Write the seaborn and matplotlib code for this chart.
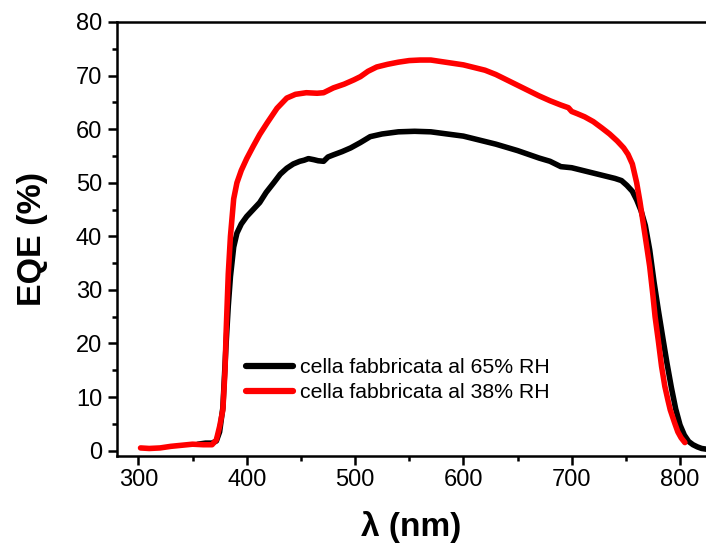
import matplotlib
matplotlib.use("Agg")
import matplotlib.pyplot as plt
from matplotlib.ticker import MultipleLocator
import numpy as np
import pandas as pd
import seaborn as sns

# EQE spectra of the two cells (wavelength in nm, EQE in %)
wl_65 = [355, 362, 368, 372, 375, 378, 381, 383, 385, 388, 391, 395, 400, 406,
         412, 418, 425, 431, 437, 443, 449, 453, 457, 462, 466, 471, 475, 480,
         488, 496, 505, 514, 525, 540, 555, 570, 585, 600, 610, 620, 630, 640,
         650, 660, 670, 680, 690, 700, 710, 720, 730, 740, 746, 751, 756, 760,
         764, 768, 772, 776, 780, 784, 788, 792, 796, 800, 804, 808, 812, 816,
         820, 825]
eqe_65 = [1.2, 1.4, 1.4, 1.8, 3.5, 8.0, 20.0, 27.0, 32.5, 38.0, 40.6, 42.3, 43.7, 45.0,
          46.3, 48.2, 50.0, 51.6, 52.7, 53.5, 54.0, 54.2, 54.5, 54.3, 54.1, 54.0, 54.8, 55.2,
          55.8, 56.5, 57.5, 58.6, 59.1, 59.5, 59.6, 59.5, 59.1, 58.7, 58.2, 57.7, 57.2, 56.6,
          56.0, 55.3, 54.6, 54.0, 53.0, 52.8, 52.3, 51.8, 51.3, 50.8, 50.4, 49.5, 48.4, 46.8,
          44.8, 42.0, 37.5, 31.5, 26.2, 21.2, 16.3, 11.8, 7.8, 4.8, 2.9, 1.7, 1.1, 0.7,
          0.4, 0.25]

wl_38 = [302, 310, 320, 330, 340, 350, 360, 368, 372, 375, 378, 380, 381, 383, 385,
         388, 391, 395, 400, 406, 412, 419, 428, 437, 445, 455, 465, 471, 480, 490,
         499, 505, 512, 520, 530, 540, 550, 560, 570, 580, 590, 600, 610, 620, 630,
         640, 650, 660, 670, 680, 690, 697, 700, 705, 712, 720, 728, 735, 742, 748,
         752, 756, 760, 763, 766, 769, 772, 775, 777, 780, 783, 786, 789, 791, 795,
         798, 801, 804.5]
eqe_38 = [0.5, 0.4, 0.5, 0.8, 1.0, 1.2, 1.1, 1.1, 2.0, 4.5, 7.6, 15.0, 22.0, 33.0, 40.0,
          47.0, 50.0, 52.3, 54.5, 56.8, 59.0, 61.2, 63.9, 65.8, 66.5, 66.8, 66.7, 66.8, 67.7, 68.4,
          69.2, 69.8, 70.8, 71.6, 72.1, 72.5, 72.8, 72.9, 72.9, 72.6, 72.3, 72.0, 71.5, 71.0, 70.2,
          69.2, 68.2, 67.2, 66.2, 65.3, 64.5, 64.0, 63.3, 62.9, 62.3, 61.4, 60.2, 59.1, 57.8, 56.5,
          55.3, 53.5, 50.0, 46.5, 42.5, 38.5, 34.4, 29.0, 25.0, 20.5, 15.7, 12.0, 9.3, 7.6, 5.2,
          3.5, 2.4, 1.5]

labels = ["cella fabbricata al 65% RH", "cella fabbricata al 38% RH"]
colors = ["#000000", "#ff0000"]

x_ticks = [300, 400, 500, 600, 700, 800]
y_ticks = [0, 10, 20, 30, 40, 50, 60, 70, 80]

sns.set_style("ticks")
plt.rcParams["font.family"] = ["Liberation Sans", "DejaVu Sans"]
plt.rcParams["text.color"] = "black"
plt.rcParams["axes.labelcolor"] = "black"

df_65 = pd.DataFrame({"wl": wl_65, "eqe": eqe_65})
df_38 = pd.DataFrame({"wl": wl_38, "eqe": eqe_38})

fig = plt.figure(figsize=(7.06, 5.47), dpi=100)
ax = fig.add_axes([0.1653, 0.1664, 0.8347, 0.7934])

sns.lineplot(data=df_65, x="wl", y="eqe", ax=ax, color=colors[0], lw=4.0,
             label=labels[0], sort=True, estimator=None)
sns.lineplot(data=df_38, x="wl", y="eqe", ax=ax, color=colors[1], lw=4.0,
             label=labels[1], sort=True, estimator=None)

ax.set_xlim(280, 824)
ax.set_ylim(-1, 80)
ax.set_xticks(x_ticks)
ax.set_yticks(y_ticks)
ax.xaxis.set_minor_locator(MultipleLocator(50))
ax.yaxis.set_minor_locator(MultipleLocator(5))

for side in ["left", "bottom", "top"]:
    ax.spines[side].set_linewidth(1.8)
    ax.spines[side].set_color("black")
ax.spines["right"].set_visible(False)

ax.tick_params(axis="both", which="major", direction="out", length=6.5, width=1.8,
               labelsize=17, colors="black")
ax.tick_params(axis="x", which="major", pad=3)
ax.tick_params(axis="y", which="major", pad=4)
ax.tick_params(axis="both", which="minor", direction="out", length=3.6, width=1.8,
               colors="black")
ax.tick_params(top=False, right=False, which="both")

ax.set_xlabel("λ (nm)", fontsize=24, fontweight="bold", labelpad=14)
ax.set_ylabel("EQE (%)", fontsize=24.5, fontweight="bold", labelpad=20)

leg = ax.legend(loc="upper left", bbox_to_anchor=(246 / 706, 1 - 358 / 547),
                bbox_transform=fig.transFigure, frameon=False, fontsize=15.3,
                handlelength=2.2, handletextpad=0.35, labelspacing=0.28,
                borderpad=0, borderaxespad=0)
for line in leg.get_lines():
    line.set_linewidth(4.5)

fig.savefig("out.png", dpi=100)
